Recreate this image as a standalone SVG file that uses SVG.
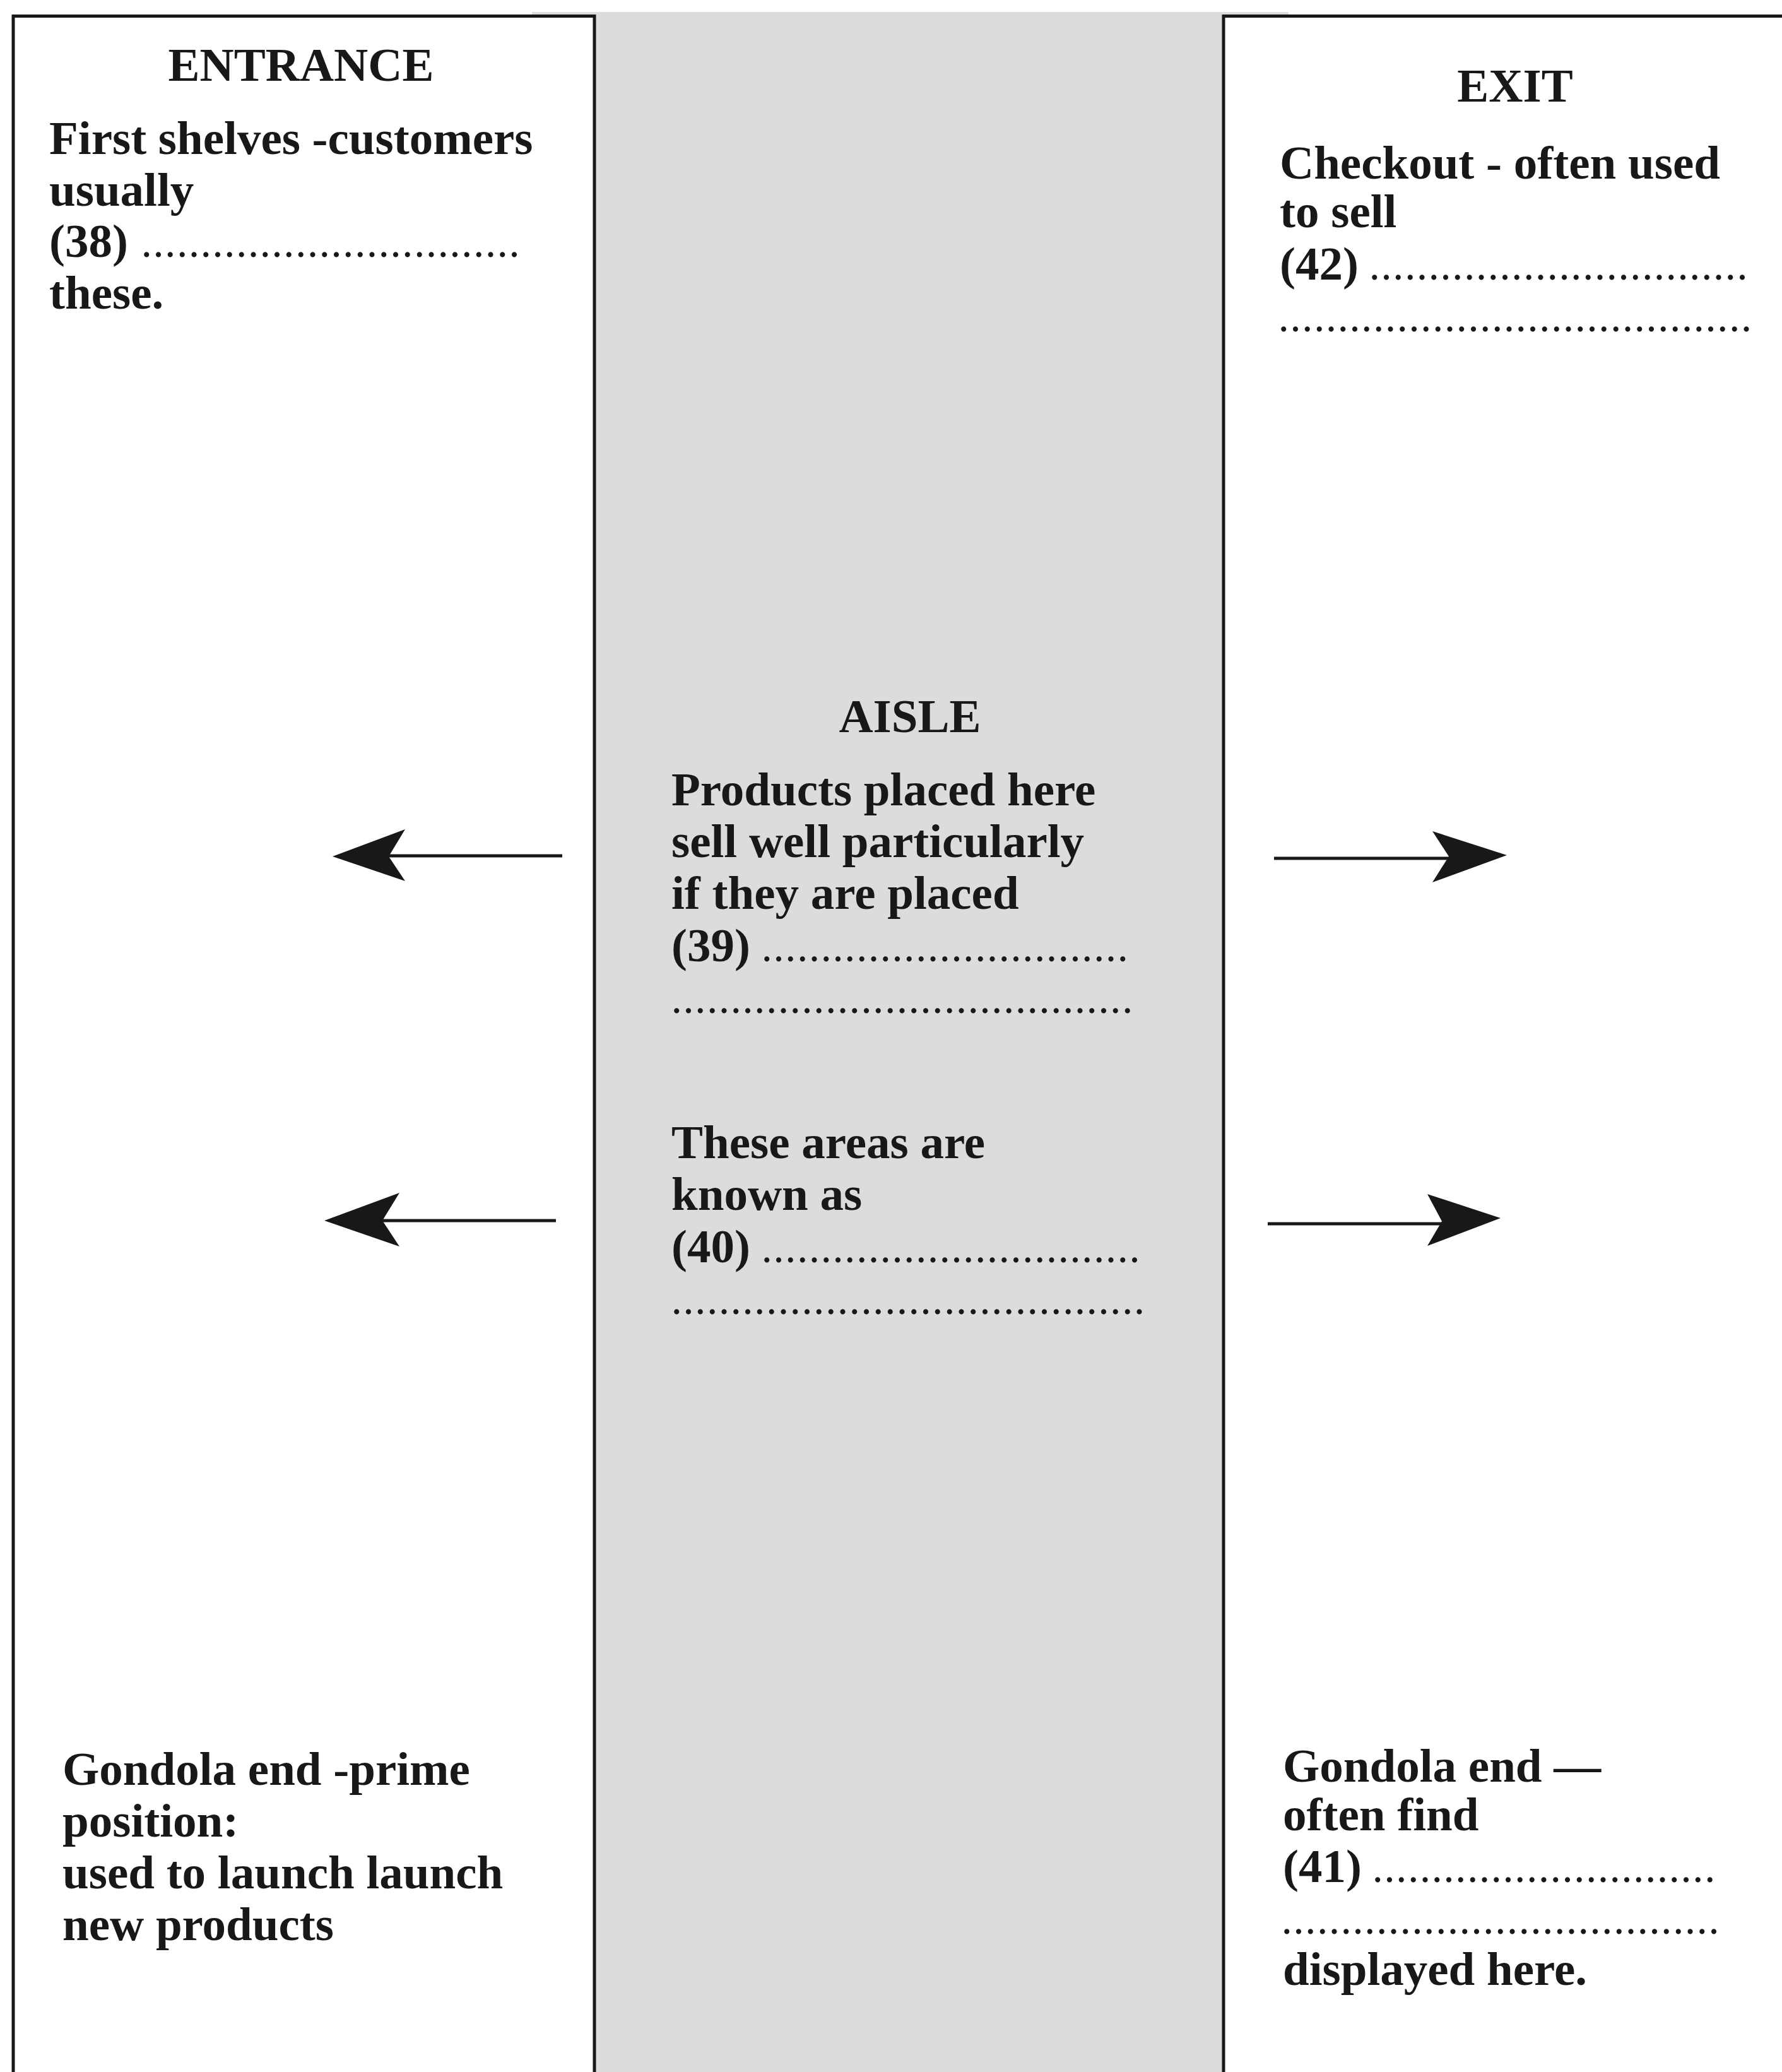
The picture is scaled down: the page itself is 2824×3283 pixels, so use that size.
<svg xmlns="http://www.w3.org/2000/svg" width="2824" height="3283" viewBox="0 0 2824 3283">
<style>
  .t { font-family: "Liberation Serif", "Times New Roman", serif; font-weight: bold; font-size: 75px; fill: #1a1718; }
  .h { text-anchor: middle; }
  .d { font-size: 50px; letter-spacing: 6.3px; }
  .box { fill: #ffffff; stroke: #1a1718; stroke-width: 5; }
  .ln { stroke: #1a1718; stroke-width: 5; fill: none; }
  .hd { fill: #1a1718; }
</style>
<rect x="0" y="0" width="2824" height="3283" fill="#ffffff"/>
<g id="aisle">
  <rect x="843" y="19" width="1199" height="3270" fill="#dcdcde"/>
  <text class="t h" x="1442" y="1160">AISLE</text>
  <text class="t" x="1064" y="1276">Products placed here</text>
  <text class="t" x="1064" y="1358">sell well particularly</text>
  <text class="t" x="1064" y="1440">if they are placed</text>
  <text class="t" x="1064" y="1523">(39)<tspan class="d" x="1209">...............................</tspan></text>
  <text class="t" x="1066" y="1605"><tspan class="d">.......................................</tspan></text>
  <text class="t" x="1064" y="1835">These areas are</text>
  <text class="t" x="1064" y="1917">known as</text>
  <text class="t" x="1064" y="2000">(40)<tspan class="d" x="1209">................................</tspan></text>
  <text class="t" x="1066" y="2082"><tspan class="d">........................................</tspan></text>
</g>
<g id="entrance">
  <rect class="box" x="21" y="25.5" width="921" height="3280"/>
  <text class="t h" x="477" y="128">ENTRANCE</text>
  <text class="t" x="78" y="244">First shelves -customers</text>
  <text class="t" x="78" y="326">usually</text>
  <text class="t" x="78" y="407">(38)<tspan class="d" x="226">................................</tspan></text>
  <text class="t" x="78" y="489">these.</text>
</g>
<g id="gondola-left">
  <text class="t" x="99" y="2828">Gondola end -prime</text>
  <text class="t" x="99" y="2910">position:</text>
  <text class="t" x="99" y="2992">used to launch launch</text>
  <text class="t" x="99" y="3074">new products</text>
</g>
<g id="exit">
  <rect class="box" x="1939" y="25.5" width="900" height="3280"/>
  <text class="t h" x="2401" y="161">EXIT</text>
  <text class="t" x="2028" y="283">Checkout - often used</text>
  <text class="t" x="2028" y="360">to sell</text>
  <text class="t" x="2028" y="443">(42)<tspan class="d" x="2172">................................</tspan></text>
  <text class="t" x="2028" y="525"><tspan class="d">........................................</tspan></text>
</g>
<g id="gondola-right">
  <text class="t" x="2033" y="2823">Gondola end —</text>
  <text class="t" x="2033" y="2900">often find</text>
  <text class="t" x="2033" y="2982">(41)<tspan class="d" x="2177">.............................</tspan></text>
  <text class="t" x="2033" y="3064"><tspan class="d">.....................................</tspan></text>
  <text class="t" x="2033" y="3145">displayed here.</text>
</g>
<g id="connectors">
  <line class="ln" x1="891" y1="1356" x2="615" y2="1356"/>
  <polygon class="hd" points="527,1357 642,1314 616,1357 642,1396"/>
  <line class="ln" x1="881" y1="1934" x2="604" y2="1934"/>
  <polygon class="hd" points="514,1934 633,1890 606,1934 633,1975"/>
  <line class="ln" x1="2019" y1="1360" x2="2298" y2="1360"/>
  <polygon class="hd" points="2388,1355 2270,1317 2296,1357 2270,1398"/>
  <line class="ln" x1="2009" y1="1939" x2="2287" y2="1939"/>
  <polygon class="hd" points="2378,1930 2262,1892 2285,1935 2262,1974"/>
</g>
</svg>
